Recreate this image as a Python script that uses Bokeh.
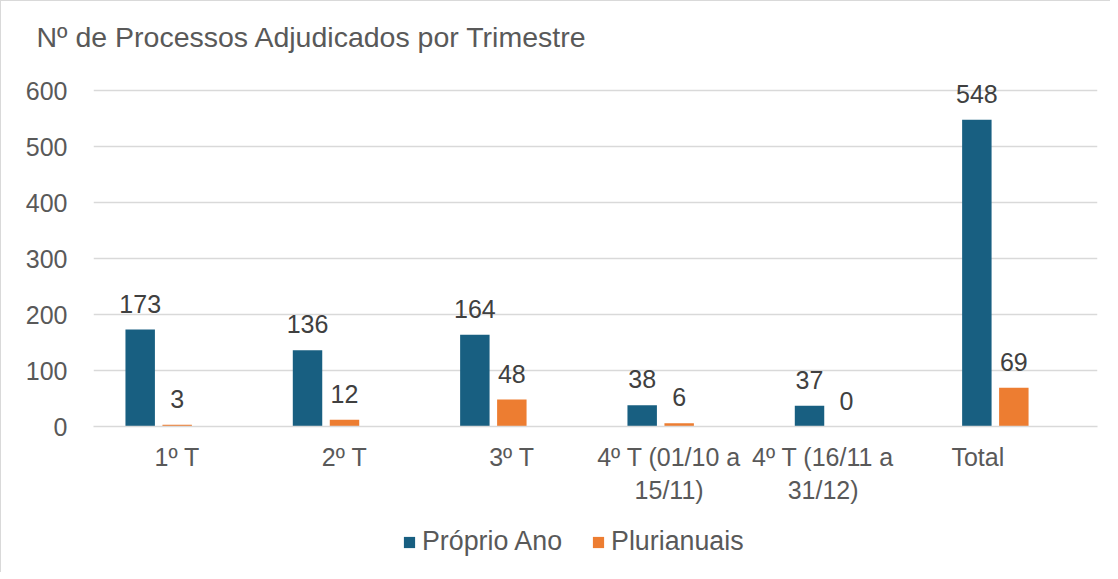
from bokeh.plotting import figure
from bokeh.layouts import column
from bokeh.models import (ColumnDataSource, Range1d, FixedTicker, Legend, LegendItem, Title)
from bokeh.core.properties import value
from bokeh.embed import file_html
from bokeh.resources import INLINE

# ---- data ----
categories = ["1º T", "2º T", "3º T", "4º T (01/10 a 15/11)", "4º T (16/11 a 31/12)", "Total"]
tick_labels = ["1º T", "2º T", "3º T", "4º T (01/10 a\n15/11)", "4º T (16/11 a\n31/12)", "Total"]
proprio_ano = [173, 136, 164, 38, 37, 548]
plurianuais = [3, 12, 48, 6, 0, 69]
series_names = ["Próprio Ano", "Plurianuais"]
y_ticks = [0, 100, 200, 300, 400, 500, 600]

# ---- style ----
FONT = "Liberation Sans"
BLUE = "#185F81"
ORANGE = "#ED7D31"
GRID = "#D9D9D9"
TXT = "#595959"
LBL = "#404040"
BAR_W = 0.176
OFFSETS = [-0.221, 0.0]
label_shift = [0.0, 0.0, 0.0, -0.06, -0.14, -0.215]
Y_TOP = 653.6  # headroom above the 600 gridline for the data labels

n = len(categories)
centers = [i + 0.5 for i in range(n)]

p = figure(width=1109, height=520, output_backend="svg", toolbar_location=None,
           x_range=Range1d(0, n), y_range=Range1d(0, Y_TOP),
           min_border_left=92, min_border_right=13, min_border_top=59, min_border_bottom=95)
p.outline_line_color = None
p.background_fill_color = "white"
p.border_fill_color = "white"

title = Title(text="Nº de Processos Adjudicados por Trimestre", text_font=FONT,
              text_font_size="28.5px", text_color=TXT, text_font_style="normal",
              align="left", offset=-57, standoff=16)
p.add_layout(title, "above")

colors = [BLUE, ORANGE]
for vals, off, col in [(proprio_ano, OFFSETS[0], BLUE), (plurianuais, OFFSETS[1], ORANGE)]:
    src = ColumnDataSource(dict(x=[c + off for c in centers], top=vals,
                                txt=[str(v) for v in vals]))
    p.vbar(x="x", top="top", bottom=0, width=BAR_W, source=src,
           fill_color=col, line_color=None)
    p.text(x="x", y="top", text="txt", source=src, text_font=value(FONT),
           text_font_size="25px", text_color=LBL, text_align="center",
           text_baseline="middle", y_offset=-26)

# axes
tick_pos = [c + s for c, s in zip(centers, label_shift)]
p.xaxis.ticker = FixedTicker(ticks=tick_pos)
p.xaxis.major_label_overrides = {t: lab for t, lab in zip(tick_pos, tick_labels)}
p.xaxis.axis_line_color = GRID
p.xaxis.axis_line_width = 1.5
p.xaxis.major_tick_line_color = None
p.xaxis.minor_tick_line_color = None
p.xaxis.major_tick_out = 0
p.xaxis.major_tick_in = 0
p.xaxis.major_label_standoff = 16
p.xaxis.major_label_text_font = FONT
p.xaxis.major_label_text_font_size = "25px"
p.xaxis.major_label_text_color = TXT

p.yaxis.ticker = FixedTicker(ticks=y_ticks)
p.yaxis.axis_line_color = None
p.yaxis.major_tick_line_color = None
p.yaxis.minor_tick_line_color = None
p.yaxis.major_tick_out = 0
p.yaxis.major_tick_in = 0
p.yaxis.major_label_standoff = 26
p.yaxis.major_label_text_font = FONT
p.yaxis.major_label_text_font_size = "25px"
p.yaxis.major_label_text_color = TXT

p.xgrid.grid_line_color = None
p.ygrid.grid_line_color = GRID
p.ygrid.grid_line_width = 1.5

# ---- legend strip (frames are aligned with the chart above) ----
q = figure(width=1109, height=51, output_backend="svg", toolbar_location=None,
           x_range=Range1d(0, 1), y_range=Range1d(0, 1), x_axis_type=None, y_axis_type=None,
           min_border_left=92, min_border_right=13, min_border_top=0, min_border_bottom=0)
q.outline_line_color = None
q.xgrid.grid_line_color = None
q.ygrid.grid_line_color = None
# zero-height swatch renderers: only their legend glyphs are visible
swatches = [q.vbar(x=[0.5], top=[0], bottom=0, width=0.1, fill_color=c, line_color=None)
            for c in colors]
legend = Legend(items=[LegendItem(label=nm, renderers=[r]) for nm, r in zip(series_names, swatches)],
                orientation="horizontal", location=(309, 15),
                glyph_width=14, glyph_height=14, label_standoff=6, spacing=29,
                padding=0, margin=0, border_line_color=None, background_fill_alpha=0,
                label_text_font=FONT, label_text_font_size="26.8px", label_text_color=TXT)
q.add_layout(legend, "center")

layout = column(p, q, spacing=0,
                styles={"border-left": "1px solid #D9D9D9", "border-top": "1px solid #D9D9D9"})

open("out.html", "w").write(file_html(layout, INLINE))
